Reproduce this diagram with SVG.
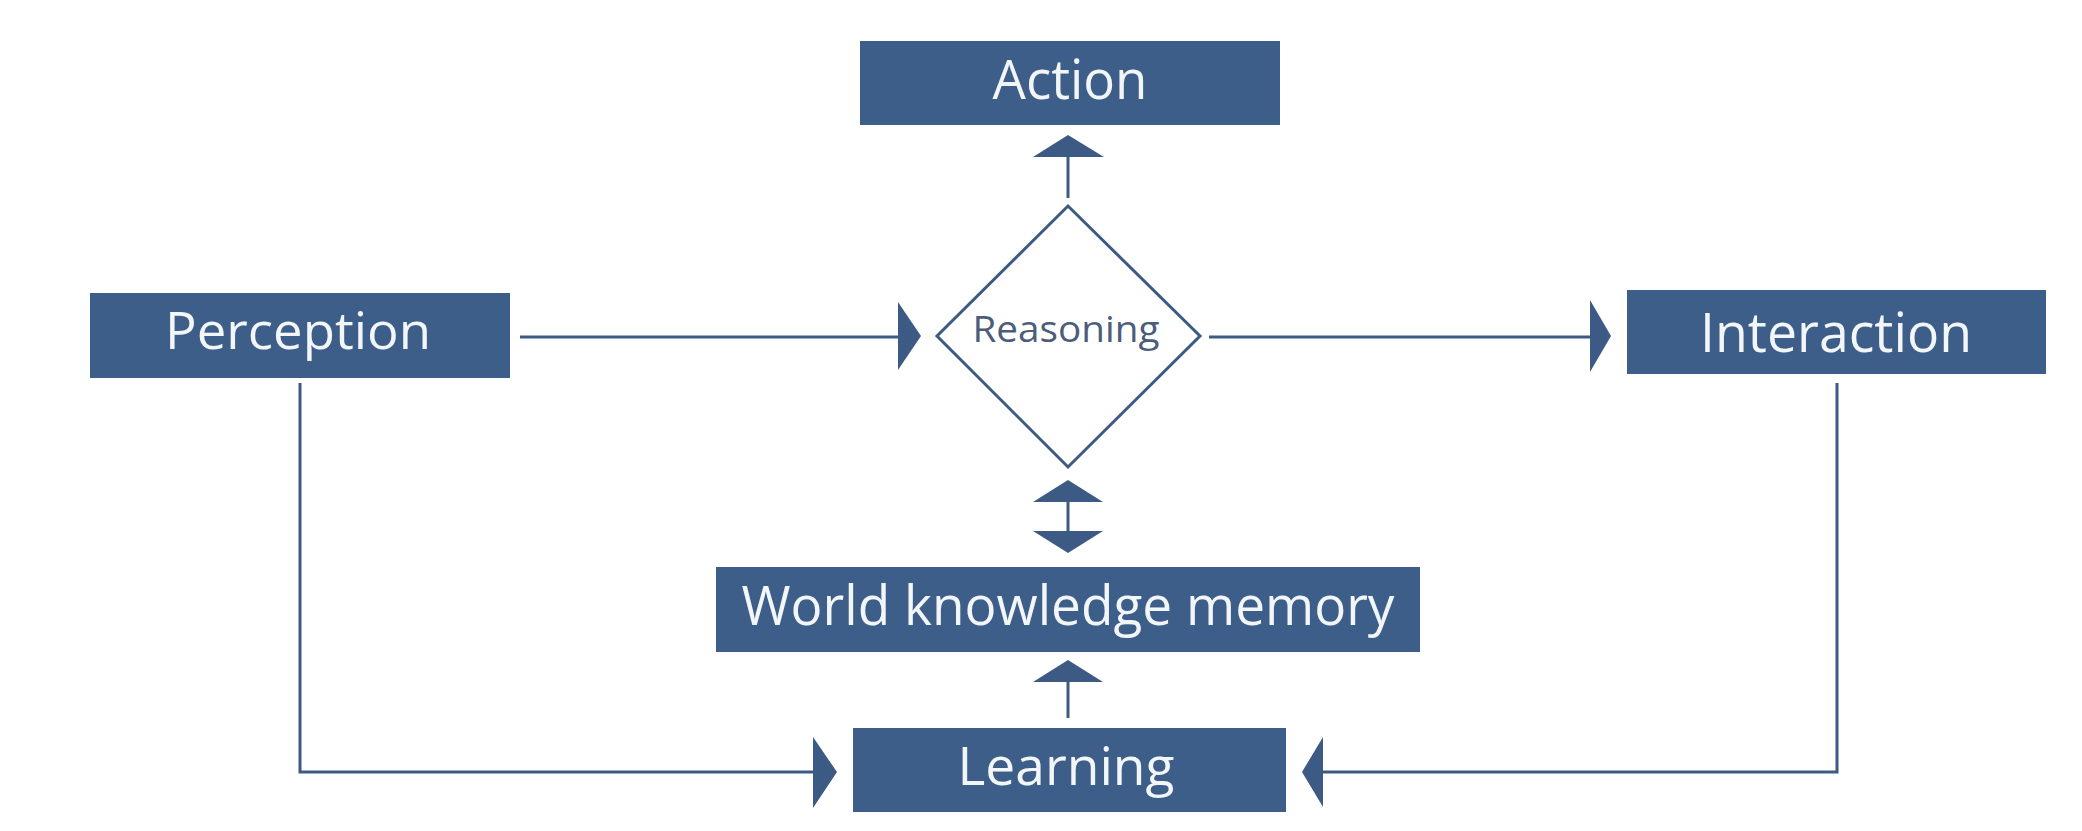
<svg xmlns="http://www.w3.org/2000/svg" width="2082" height="831" viewBox="0 0 2082 831">
<style>
.box{fill:#3d5e88;}
.lbl{fill:#f3f6f9;font-family:"Open Sans","Noto Sans",sans-serif;text-anchor:middle;}
.ln{fill:none;stroke:#3d5a85;stroke-width:3;}
.ah{fill:#3d5a85;}
</style>
<rect width="2082" height="831" fill="#ffffff"/>
<g id="connectors">
<line class="ln" x1="1068" y1="198" x2="1068" y2="156"/>
<polygon class="ah" points="1068,135 1104,157 1033,157"/>
<line class="ln" x1="520" y1="337" x2="900" y2="337"/>
<polygon class="ah" points="898,302 921,336 898,370"/>
<line class="ln" x1="1209" y1="337" x2="1592" y2="337"/>
<polygon class="ah" points="1590,300 1611,336 1590,372"/>
<line class="ln" x1="1068" y1="500" x2="1068" y2="533"/>
<polygon class="ah" points="1068,480 1103,502 1033,502"/>
<polygon class="ah" points="1033,531 1103,531 1068,553"/>
<line class="ln" x1="1068" y1="680" x2="1068" y2="718"/>
<polygon class="ah" points="1068,660 1103,682 1033,682"/>
<path class="ln" d="M300,383 V772 H815"/>
<polygon class="ah" points="813,737 837,772 813,808"/>
<path class="ln" d="M1837,383 V772 H1321"/>
<polygon class="ah" points="1323,737 1302,772 1323,807"/>
</g>
<g id="action">
<rect class="box" x="860" y="41" width="420" height="84"/>
<text class="lbl" x="1070" y="99" font-size="54" textLength="155" lengthAdjust="spacingAndGlyphs">Action</text>
</g>
<g id="reasoning">
<polygon points="1068,206 1200,336 1068,467 937,336" fill="#ffffff" stroke="#3d5a85" stroke-width="3"/>
<text x="1066" y="342" font-size="37" fill="#4b5d7a" font-family="Open Sans, Noto Sans, sans-serif" text-anchor="middle" textLength="187" lengthAdjust="spacingAndGlyphs">Reasoning</text>
</g>
<g id="perception">
<rect class="box" x="90" y="293" width="420" height="85"/>
<text class="lbl" x="298" y="349" font-size="52" textLength="266" lengthAdjust="spacingAndGlyphs">Perception</text>
</g>
<g id="interaction">
<rect class="box" x="1627" y="290" width="419" height="84"/>
<text class="lbl" x="1836" y="352" font-size="54" textLength="272" lengthAdjust="spacingAndGlyphs">Interaction</text>
</g>
<g id="world-knowledge-memory">
<rect class="box" x="716" y="567" width="704" height="85"/>
<text class="lbl" x="1068" y="625" font-size="55" textLength="653" lengthAdjust="spacingAndGlyphs">World knowledge memory</text>
</g>
<g id="learning">
<rect class="box" x="853" y="728" width="433" height="84"/>
<text class="lbl" x="1066" y="785" font-size="53" textLength="217" lengthAdjust="spacingAndGlyphs">Learning</text>
</g>
</svg>
